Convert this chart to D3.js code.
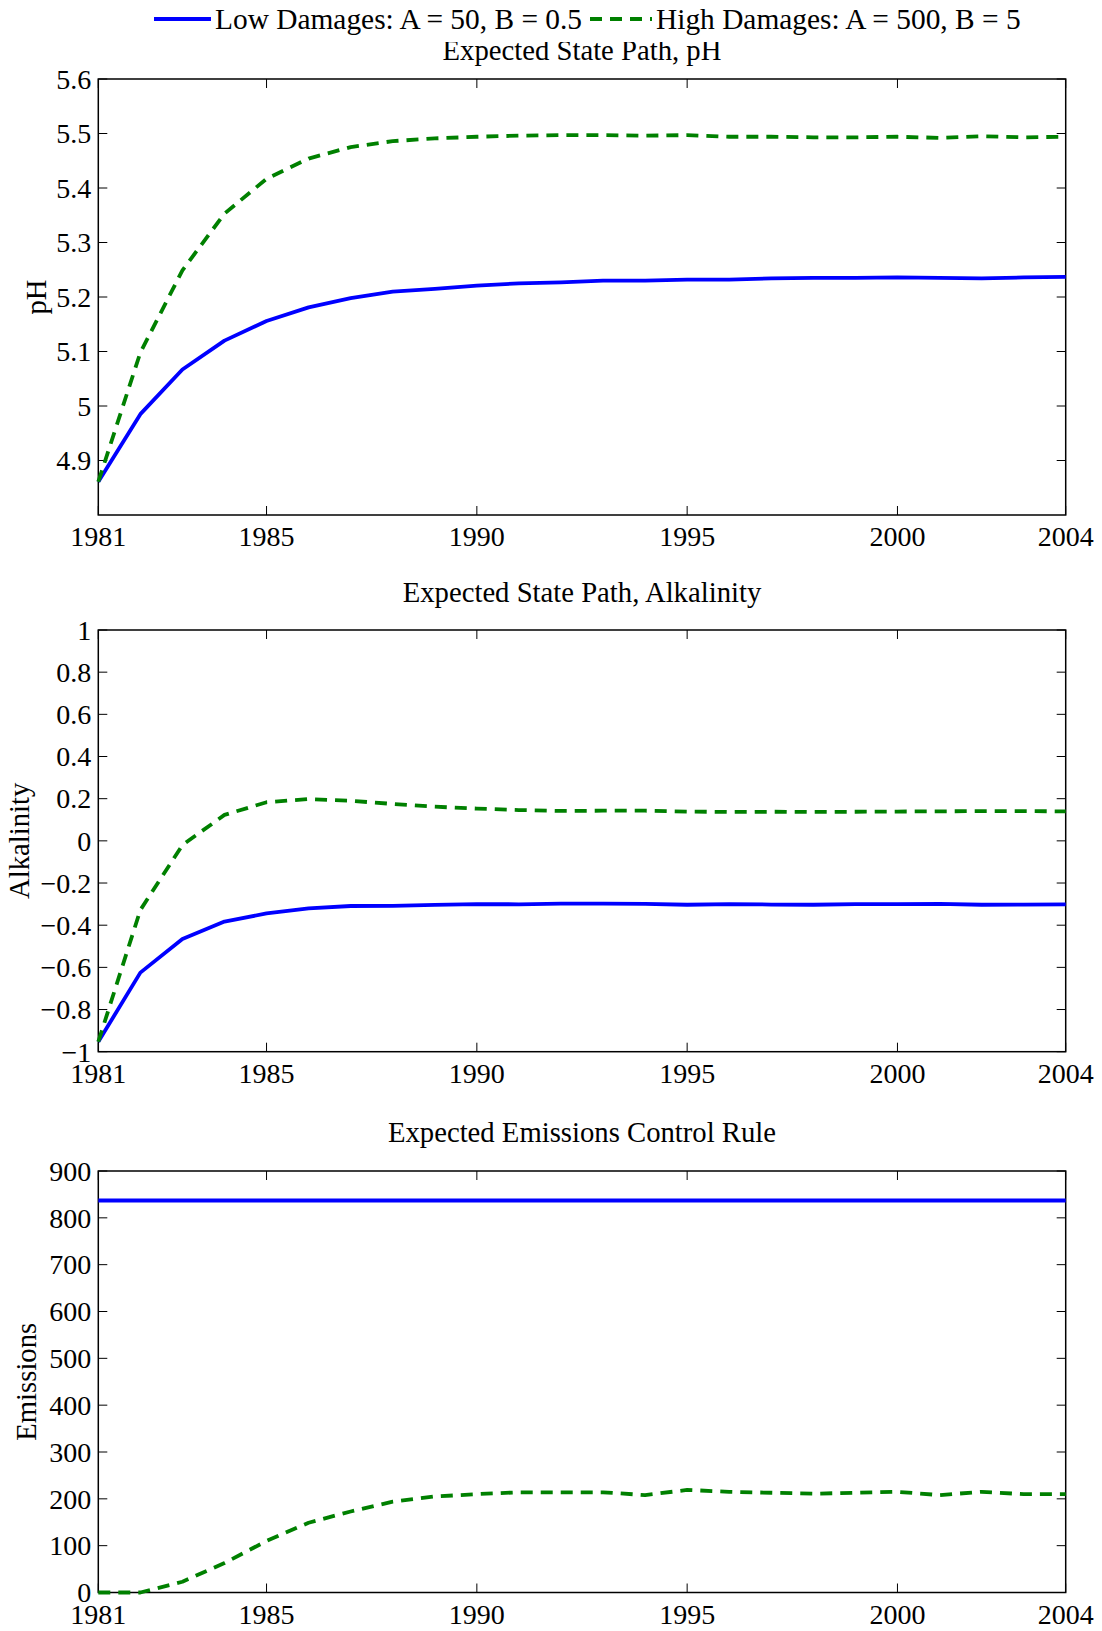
<!DOCTYPE html>
<html>
<head>
<meta charset="utf-8">
<script src="https://cdn.jsdelivr.net/npm/d3@7"></script>
<style>
  body { margin: 0; background: #fff; }
  svg text { font-family: "Liberation Serif", "Times New Roman", serif; fill: #000; }
</style>
</head>
<body>
<svg id="chart" width="1102" height="1631"></svg>
<script>
// ---------- data ----------
const years = [1981,1982,1983,1984,1985,1986,1987,1988,1989,1990,1991,1992,
               1993,1994,1995,1996,1997,1998,1999,2000,2001,2002,2003,2004];
const xTickValues = [1981, 1985, 1990, 1995, 2000, 2004];

const seriesNames = ["Low Damages: A = 50, B = 0.5", "High Damages: A = 500, B = 5"];

const phLow  = [4.861,4.985,5.067,5.120,5.156,5.181,5.198,5.210,5.215,5.221,5.225,5.227,
                5.230,5.230,5.232,5.232,5.234,5.235,5.235,5.236,5.235,5.234,5.236,5.237];
const phHigh = [4.861,5.098,5.249,5.353,5.417,5.454,5.475,5.486,5.491,5.494,5.496,5.497,
                5.497,5.496,5.497,5.494,5.494,5.493,5.493,5.494,5.492,5.495,5.493,5.494];

const alkLow  = [-0.953,-0.625,-0.466,-0.383,-0.344,-0.320,-0.309,-0.308,-0.304,-0.300,-0.301,-0.298,
                 -0.298,-0.299,-0.303,-0.300,-0.302,-0.303,-0.300,-0.300,-0.299,-0.303,-0.302,-0.301];
const alkHigh = [-0.953,-0.328,-0.020,0.123,0.183,0.198,0.190,0.175,0.162,0.153,0.146,0.142,
                 0.143,0.143,0.139,0.137,0.138,0.137,0.138,0.139,0.140,0.141,0.141,0.140];

const emLow  = [837,837,837,837,837,837,837,837,837,837,837,837,
                837,837,837,837,837,837,837,837,837,837,837,837];
const emHigh = [0,0,23,63,110,149,173,194,205,210,214,214,
                214,208,219,215,213,211,213,215,208,215,210,210];

const phTicks  = [4.9, 5.0, 5.1, 5.2, 5.3, 5.4, 5.5, 5.6];
const alkTicks = [-1, -0.8, -0.6, -0.4, -0.2, 0, 0.2, 0.4, 0.6, 0.8, 1];
const emTicks  = [0, 100, 200, 300, 400, 500, 600, 700, 800, 900];

const titles  = ["Expected State Path, pH", "Expected State Path, Alkalinity", "Expected Emissions Control Rule"];
const yLabels = ["pH", "Alkalinity", "Emissions"];

// ---------- layout ----------
const svg = d3.select("#chart");
const FS = 28;
const FS_TITLE = 28.7;
const FS_LEG = 29.4;
const left = 98.3, right = 1065.7;
const colors = ["#0000ff", "#008000"];
const dashes = [null, "12,8"];
const LW = 3.8;

const panels = [
  { top: 79,   bottom: 515,    domain: [4.8, 5.6], ticks: phTicks,  low: phLow,  high: phHigh,
    title: titles[0], titleY: 50,   ylab: yLabels[0], ylabX: 36 },
  { top: 630,  bottom: 1051.7, domain: [-1, 1],    ticks: alkTicks, low: alkLow, high: alkHigh,
    title: titles[1], titleY: 592,  ylab: yLabels[1], ylabX: 19 },
  { top: 1171, bottom: 1592.5, domain: [0, 900],   ticks: emTicks,  low: emLow,  high: emHigh,
    title: titles[2], titleY: 1132, ylab: yLabels[2], ylabX: 26 }
];

const x = d3.scaleLinear().domain([1981, 2004]).range([left, right]);
const fmt = v => {
  let s = d3.format("~g")(+v.toFixed(4));
  return s.replace("-", "\u2212");
};

panels.forEach(p => {
  const y = d3.scaleLinear().domain(p.domain).range([p.bottom, p.top]);
  const g = svg.append("g");
  const tl = 9;

  // ticks (inside, all four sides)
  const tg = g.append("g").attr("stroke", "#000").attr("stroke-width", 1);
  xTickValues.forEach(t => {
    tg.append("line").attr("x1", x(t)).attr("x2", x(t)).attr("y1", p.bottom).attr("y2", p.bottom - tl);
    tg.append("line").attr("x1", x(t)).attr("x2", x(t)).attr("y1", p.top).attr("y2", p.top + tl);
  });
  p.ticks.forEach(t => {
    tg.append("line").attr("x1", left).attr("x2", left + tl).attr("y1", y(t)).attr("y2", y(t));
    tg.append("line").attr("x1", right).attr("x2", right - tl).attr("y1", y(t)).attr("y2", y(t));
  });

  // frame
  g.append("rect").attr("x", left).attr("y", p.top)
    .attr("width", right - left).attr("height", p.bottom - p.top)
    .attr("fill", "none").attr("stroke", "#000").attr("stroke-width", 1.5);

  // tick labels
  g.append("g").selectAll("text").data(xTickValues).join("text")
    .attr("x", d => x(d)).attr("y", p.bottom + 31)
    .attr("text-anchor", "middle").attr("font-size", FS).text(d => d);
  g.append("g").selectAll("text").data(p.ticks).join("text")
    .attr("x", left - 7).attr("y", d => y(d)).attr("dy", "0.35em")
    .attr("text-anchor", "end").attr("font-size", FS).text(d => fmt(d));

  // series
  const line = d3.line().x((d, i) => x(years[i])).y(d => y(d));
  [p.low, p.high].forEach((vals, k) => {
    g.append("path").datum(vals).attr("d", line)
      .attr("fill", "none").attr("stroke", colors[k]).attr("stroke-width", LW)
      .attr("stroke-linejoin", "round")
      .attr("stroke-dasharray", dashes[k]);
  });

  // title
  g.append("text").attr("x", (left + right) / 2).attr("y", p.titleY).attr("dy", "0.35em")
    .attr("text-anchor", "middle").attr("font-size", FS_TITLE).text(p.title);

  // y label
  const cy = (p.top + p.bottom) / 2;
  g.append("text").attr("transform", `translate(${p.ylabX},${cy}) rotate(-90)`)
    .attr("dy", "0.35em").attr("text-anchor", "middle").attr("font-size", FS_TITLE).text(p.ylab);
});

// legend (white box overlapping the first title, as in the original)
const lg = svg.append("g");
lg.append("rect").attr("x", 140).attr("y", 0).attr("width", 895).attr("height", 42).attr("fill", "#fff");
const legendItems = [
  { x1: 154, x2: 211, tx: 215 },
  { x1: 590, x2: 652, tx: 656 }
];
legendItems.forEach((it, k) => {
  lg.append("line").attr("x1", it.x1).attr("x2", it.x2).attr("y1", 19).attr("y2", 19)
    .attr("stroke", colors[k]).attr("stroke-width", LW).attr("stroke-dasharray", dashes[k]);
  lg.append("text").attr("x", it.tx).attr("y", 19).attr("dy", "0.35em")
    .attr("font-size", FS_LEG).text(seriesNames[k]);
});
</script>
</body>
</html>
